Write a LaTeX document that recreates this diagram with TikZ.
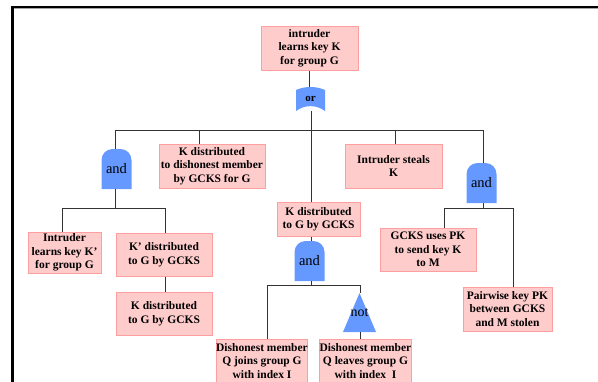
\documentclass[tikz,border=0pt]{standalone}
\usepackage{fontspec}
\setmainfont{Liberation Serif}
\usetikzlibrary{calc}
\definecolor{boxfill}{HTML}{FFCCCC}
\definecolor{boxline}{HTML}{FF9E9E}
\definecolor{gatecol}{HTML}{6699FF}
\tikzset{
  evt/.style={draw=boxline, fill=boxfill, line width=1pt, inner sep=0pt, align=center,
    font=\bfseries\fontsize{11.5}{13.5}\selectfont},
  conn/.style={draw=black!80, line width=1pt},
  andgate/.style={minimum width=30pt, minimum height=40pt, inner sep=0pt,
    font=\fontsize{14.5}{15}\selectfont,
    path picture={\fill[gatecol] (path picture bounding box.south west) [rounded corners=11pt]
      -- (path picture bounding box.north west) -- (path picture bounding box.north east)
      [sharp corners] -- (path picture bounding box.south east) -- cycle;}},
  orgate/.style={minimum width=29pt, minimum height=24pt, inner sep=0pt,
    font=\bfseries\fontsize{11}{12}\selectfont,
    path picture={\fill[gatecol] let \p1=(path picture bounding box.south west),
      \p2=(path picture bounding box.north east) in
      (\x1,\y2-3pt) .. controls (\x1+9pt,\y2+1pt) and (\x2-9pt,\y2+1pt) .. (\x2,\y2-3pt)
      -- (\x2,\y1) .. controls (\x2-9pt,\y1+6.5pt) and (\x1+9pt,\y1+6.5pt) .. (\x1,\y1) -- cycle;}},
  notgate/.style={minimum width=33pt, minimum height=39pt, inner sep=0pt,
    font=\fontsize{14}{15}\selectfont,
    path picture={\fill[gatecol] (path picture bounding box.south west)
      -- (path picture bounding box.south east) -- (path picture bounding box.north) -- cycle;}}
}
\begin{document}
\begin{tikzpicture}[x=1pt, y=-1pt]
\useasboundingbox (0,0) rectangle (598,381);
% frame
\draw[line width=2.2pt, line join=miter] (12.5,390) -- (12.5,7.2) -- (605,7.2);
\draw[black!35, line width=0.9pt] (13.6,8.9) -- (605,8.9);

% events
\node[evt, minimum width=97pt, minimum height=44pt] (top) at (309.5,48) {intruder\\learns key K\\for group G};
\node[orgate] (orG) at (310.5,99) {or};
\node[andgate] (andL) at (116.5,169) {\raisebox{-2pt}{and}};
\node[evt, minimum width=106pt, minimum height=44pt] (kdish) at (212,166) {K distributed\\to dishonest member\\by GCKS for G};
\node[evt, minimum width=97pt, minimum height=44pt] (steal) at (393.5,166) {Intruder steals\\K};
\node[andgate] (andR) at (481.5,183) {\raisebox{-2pt}{and}};
\node[evt, minimum width=83pt, minimum height=34pt] (mid) at (318.5,219) {K distributed\\to G by GCKS};
\node[evt, minimum width=73pt, minimum height=41pt] (ilk) at (64.5,252.5) {Intruder\\learns key K’\\for group G};
\node[evt, minimum width=96pt, minimum height=43pt] (kpd) at (164,254.5) {K’ distributed\\to G by GCKS};
\node[evt, minimum width=96pt, minimum height=43pt] (kdg) at (164,313.5) {K distributed\\to G by GCKS};
\node[evt, minimum width=96pt, minimum height=43pt] (gpk) at (428,249.5) {GCKS uses PK\\to send key K\\to M};
\node[evt, minimum width=89pt, minimum height=44pt] (pw) at (507.5,309) {Pairwise key PK\\between GCKS\\and M stolen};
\node[andgate] (andM) at (309.5,261) {\raisebox{-2pt}{and}};
\node[notgate] (notG) at (359.5,312.5) {\raisebox{-6pt}{not}};
\node[evt, minimum width=90pt, minimum height=44pt] (djoin) at (262,361) {Dishonest member\\Q joins group G\\with index I};
\node[evt, minimum width=89pt, minimum height=44pt] (dleave) at (365.5,361) {Dishonest member\\Q leaves group G\\with index\ \ I};

% bus coordinates
\coordinate (b1L) at (115,130);
\coordinate (b1R) at (483,130);
\coordinate (d1) at (199,130);
\coordinate (d2) at (311,130);
\coordinate (d3) at (395,130);
\coordinate (b2L) at (62,208);
\coordinate (b2R) at (165,208);
\coordinate (b3L) at (444,208);
\coordinate (b3R) at (513,208);
\coordinate (b4L) at (267,285);
\coordinate (b4R) at (360,285);

% connectors
\draw[conn] (top.south) -- (top.south |- orG.north);
\draw[conn] (orG.south -| d2) -- (d2 |- mid.north);
\draw[conn] (b1L) -- (b1R);
\draw[conn] (b1L) -- (b1L |- andL.north);
\draw[conn] (d1) -- (d1 |- kdish.north);
\draw[conn] (d3) -- (d3 |- steal.north);
\draw[conn] (b1R) -- (b1R |- andR.north);

\draw[conn] (b1L |- andL.south) -- (b1L |- b2L);
\draw[conn] (b2L) -- (b2R);
\draw[conn] (b2L) -- (b2L |- ilk.north);
\draw[conn] (b2R) -- (b2R |- kpd.north);
\draw[conn] (b2R |- kpd.south) -- (b2R |- kdg.north);

\draw[conn] (b1R |- andR.south) -- (b1R |- b3L);
\draw[conn] (b3L) -- (b3R);
\draw[conn] (b3L) -- (b3L |- gpk.north);
\draw[conn] (b3R) -- (b3R |- pw.north);

\draw[conn] (d2 |- mid.south) -- (d2 |- andM.north);
\draw[conn] (d2 |- andM.south) -- (d2 |- b4L);
\draw[conn] (b4L) -- (b4R);
\draw[conn] (b4L) -- (b4L |- djoin.north);
\draw[conn] (b4R) -- (b4R |- notG.north);
\draw[conn] (b4R |- notG.south) -- (b4R |- dleave.north);
\end{tikzpicture}
\end{document}
